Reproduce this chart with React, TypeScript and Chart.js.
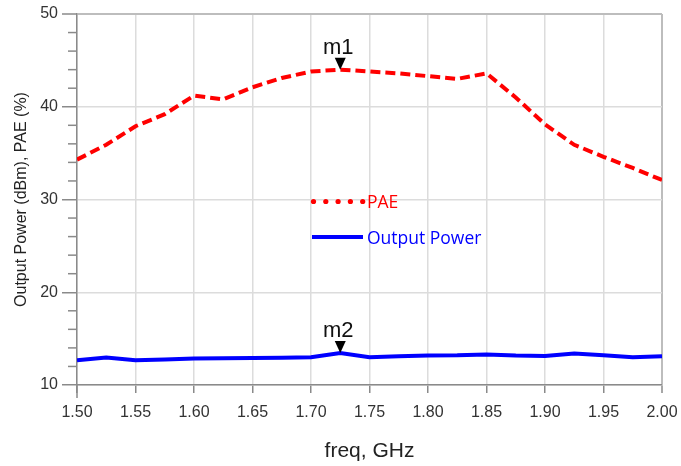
import React, { useEffect, useRef } from "react";
import { Chart, registerables } from "chart.js";

Chart.register(...registerables);

const freqGHz = [1.5, 1.525, 1.55, 1.575, 1.6, 1.625, 1.65, 1.675, 1.7, 1.725, 1.75, 1.775, 1.8, 1.825, 1.85, 1.875, 1.9, 1.925, 1.95, 1.975, 2.0];
const paePct = [34.3, 35.9, 37.9, 39.2, 41.2, 40.8, 42.1, 43.1, 43.8, 44.0, 43.8, 43.6, 43.3, 43.0, 43.6, 41.0, 38.1, 35.9, 34.6, 33.4, 32.1];
const outputPowerDbm = [12.67, 12.96, 12.67, 12.74, 12.85, 12.88, 12.9, 12.95, 13.0, 13.45, 13.0, 13.1, 13.17, 13.2, 13.3, 13.17, 13.13, 13.4, 13.2, 13.0, 13.1];
const xTickStep = 0.05;
const yTickStep = 2;
const yMajorStep = 10;
const markers = [
  { label: "m1", series: "PAE", index: 9 },
  { label: "m2", series: "Output Power", index: 9 },
];

const FONT = "'Liberation Sans', Arial, sans-serif";

const minorTickPlugin = {
  id: "minorTicks",
  afterDraw(chart: any) {
    const { ctx, chartArea, scales } = chart;
    const y = scales.y;
    ctx.save();
    ctx.strokeStyle = "#8a8a8a";
    ctx.lineWidth = 1.5;
    y.ticks.forEach((t: any) => {
      if (Math.abs(t.value % yMajorStep) > 1e-6) {
        const py = y.getPixelForValue(t.value);
        ctx.beginPath();
        ctx.moveTo(chartArea.left - 9, py);
        ctx.lineTo(chartArea.left, py);
        ctx.stroke();
      }
    });
    ctx.beginPath();
    ctx.moveTo(chartArea.left, chartArea.bottom);
    ctx.lineTo(chartArea.left, chartArea.bottom + 13);
    ctx.stroke();
    ctx.restore();
  },
};

const markerPlugin = {
  id: "markers",
  afterDatasetsDraw(chart: any) {
    const { ctx } = chart;
    ctx.save();
    markers.forEach((m) => {
      const di = chart.data.datasets.findIndex((d: any) => d.label === m.series);
      const pt = chart.getDatasetMeta(di).data[m.index];
      if (!pt) return;
      const x = pt.x;
      const y = pt.y;
      ctx.fillStyle = "#000";
      ctx.beginPath();
      ctx.moveTo(x, y);
      ctx.lineTo(x - 5.5, y - 12);
      ctx.lineTo(x + 5.5, y - 12);
      ctx.closePath();
      ctx.fill();
      ctx.fillStyle = "#111";
      ctx.font = `22px ${FONT}`;
      ctx.textAlign = "center";
      ctx.textBaseline = "alphabetic";
      ctx.fillText(m.label, x - 2, y - 16);
    });
    ctx.restore();
  },
};

const legendPlugin = {
  id: "innerLegend",
  afterDraw(chart: any) {
    const { ctx } = chart;
    const ds = chart.data.datasets;
    const pae = ds.find((d: any) => d.label === "PAE");
    const pout = ds.find((d: any) => d.label === "Output Power");
    ctx.save();
    ctx.font = `17.5px 'Open Sans', sans-serif`;
    ctx.textBaseline = "alphabetic";
    ctx.textAlign = "left";
    ctx.fillStyle = pae.borderColor;
    for (let i = 0; i < 5; i++) {
      ctx.beginPath();
      ctx.arc(313.5 + i * 12.3, 201.5, 2.6, 0, Math.PI * 2);
      ctx.fill();
    }
    ctx.fillText(pae.label, 367, 207.5);
    ctx.strokeStyle = pout.borderColor;
    ctx.lineWidth = 4;
    ctx.beginPath();
    ctx.moveTo(312, 237);
    ctx.lineTo(363, 237);
    ctx.stroke();
    ctx.fillStyle = pout.borderColor;
    ctx.fillText(pout.label, 367, 243.5);
    ctx.restore();
  },
};

export default function App() {
  const ref = useRef<HTMLCanvasElement>(null);
  useEffect(() => {
    if (!ref.current) return;
    const chart = new Chart(ref.current, {
      type: "line",
      data: {
        datasets: [
          {
            label: "Output Power",
            data: freqGHz.map((f, i) => ({ x: f, y: outputPowerDbm[i] })),
            borderColor: "#0000ff",
            borderWidth: 4,
            pointRadius: 0,
            tension: 0,
          },
          {
            label: "PAE",
            data: freqGHz.map((f, i) => ({ x: f, y: paePct[i] })),
            borderColor: "#ff0000",
            borderWidth: 4,
            borderDash: [10, 5],
            pointRadius: 0,
            tension: 0,
          },
        ],
      },
      options: {
        animation: false,
        responsive: false,
        events: [],
        layout: { padding: { left: 0, top: 14, right: 19, bottom: 0 } },
        plugins: { legend: { display: false }, tooltip: { enabled: false } },
        scales: {
          x: {
            type: "linear",
            min: 1.5,
            max: 2.0,
            afterFit: (s: any) => {
              s.height = 81;
              s.paddingLeft = 0;
              s.paddingRight = 0;
            },
            afterBuildTicks: (s: any) => {
              const t = [];
              for (let v = 1.5; v <= 2.0 + 1e-9; v += xTickStep) t.push({ value: Math.round(v * 1000) / 1000 });
              s.ticks = t;
            },
            ticks: {
              font: { family: FONT, size: 16 },
              color: "#333",
              padding: 9.5,
              maxRotation: 0,
              callback: (v: any) => Number(v).toFixed(2),
            },
            grid: {
              color: (c: any) => (c.tick && Math.abs(c.tick.value - 2.0) < 1e-6 ? "#bdbdbd" : "#dcdcdc"),
              lineWidth: (c: any) => (c.tick && Math.abs(c.tick.value - 2.0) < 1e-6 ? 2 : 1.5),
              tickColor: "#8a8a8a",
              tickLength: 8,
              tickWidth: 1.5,
            },
            border: { color: "#8a8a8a", width: 1.5 },
            title: {
              display: true,
              text: "freq, GHz",
              font: { family: FONT, size: 21 },
              color: "#222",
              padding: { top: 0, bottom: 2 },
            },
          },
          y: {
            min: 10,
            max: 50,
            afterFit: (s: any) => {
              s.width = 77;
              s.paddingTop = 0;
              s.paddingBottom = 0;
            },
            ticks: {
              stepSize: yTickStep,
              font: { family: FONT, size: 16 },
              color: "#333",
              padding: 4,
              autoSkip: false,
              callback: (v: any) => (Math.abs(Number(v) % yMajorStep) < 1e-6 ? String(v) : ""),
            },
            grid: {
              color: (c: any) => {
                if (!c.tick) return "transparent";
                const v = c.tick.value;
                if (Math.abs(v % yMajorStep) > 1e-6) return "transparent";
                return v === 50 ? "#bdbdbd" : "#dcdcdc";
              },
              lineWidth: (c: any) => (c.tick && c.tick.value === 50 ? 2 : 1.5),
              tickColor: (c: any) =>
                c.tick && Math.abs(c.tick.value % yMajorStep) < 1e-6 ? "#8a8a8a" : "transparent",
              tickLength: 15,
              tickWidth: 1.5,
            },
            border: { color: "#8a8a8a", width: 1.5 },
            title: {
              display: true,
              text: "Output Power (dBm), PAE (%)",
              font: { family: FONT, size: 16 },
              color: "#222",
              padding: { top: 12, bottom: 0 },
            },
          },
        },
      },
      plugins: [minorTickPlugin, markerPlugin, legendPlugin],
    } as any);
    return () => chart.destroy();
  }, []);
  return (
    <div style={{ position: "absolute", left: 0, top: 0, width: 681, height: 466, background: "#fff" }}>
      <canvas ref={ref} width={681} height={466} style={{ display: "block" }} />
    </div>
  );
}
